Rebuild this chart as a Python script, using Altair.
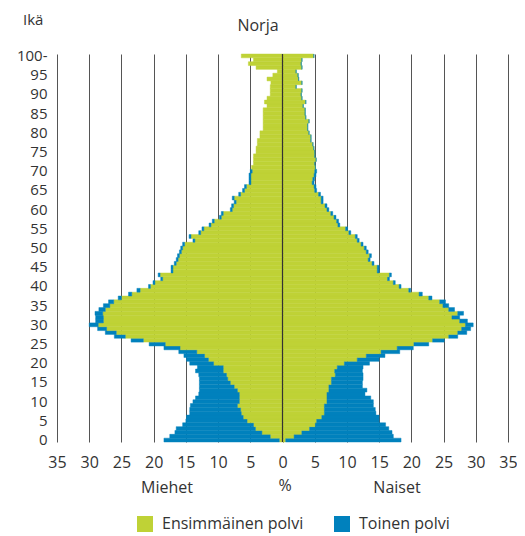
import altair as alt
import pandas as pd

ages = list(range(101))

male_first = [0.5, 1.9, 3.2, 4.2, 4.5, 5.5, 6.1, 6.4, 6.5, 7.0,
              6.7, 6.7, 6.7, 7.0, 7.5, 8.1, 8.5, 8.7, 9.2, 9.2,
              10.7, 11.5, 12.1, 13.3, 15.9, 18.2, 21.6, 24.4, 25.8, 27.3,
              28.6, 27.8, 27.8, 27.9, 27.5, 26.8, 26.2, 25.0, 23.4, 22.1,
              20.5, 19.8, 18.6, 19.0, 17.0, 17.0, 16.5, 16.2, 16.0, 15.7,
              15.5, 15.2, 13.6, 14.2, 12.7, 12.2, 11.1, 10.6, 9.5, 9.2,
              7.8, 7.6, 7.2, 7.5, 6.5, 5.9, 5.6, 4.9, 4.9, 4.9,
              4.7, 4.8, 4.5, 4.5, 4.5, 4.1, 4.1, 3.9, 3.9, 3.5,
              3.5, 3.0, 3.0, 3.0, 3.0, 3.0, 3.0, 2.4, 2.8, 2.4,
              1.9, 1.9, 1.9, 1.8, 2.4, 1.5, 0.8, 4.1, 5.3, 4.5,
              6.4]

male_second = [17.9, 15.6, 13.5, 12.3, 11.0, 9.5, 8.8, 8.0, 7.9, 7.3,
               7.2, 6.8, 6.3, 5.9, 5.4, 4.8, 4.4, 4.3, 4.3, 4.0,
               3.7, 3.4, 3.2, 2.8, 2.5, 2.5, 1.9, 1.7, 1.7, 1.4,
               1.4, 1.2, 1.2, 1.2, 1.0, 1.0, 0.8, 0.5, 0.5, 0.5,
               0.3, 0.3, 0.3, 0.3, 0.3, 0.3, 0.3, 0.3, 0.3, 0.3,
               0.3, 0.3, 0.3, 0.3, 0.3, 0.3, 0.3, 0.3, 0.3, 0.3,
               0.3, 0.3, 0.3, 0.3, 0.3, 0.3, 0.3, 0.3, 0.3, 0.3,
               0.3, 0, 0, 0, 0, 0, 0, 0, 0, 0,
               0, 0, 0, 0, 0, 0, 0, 0, 0, 0,
               0, 0, 0, 0, 0, 0, 0, 0, 0, 0,
               0]

female_first = [0.5, 1.8, 3.0, 4.2, 5.1, 5.3, 6.1, 6.5, 6.5, 6.5,
                6.9, 6.9, 6.9, 7.2, 7.2, 7.6, 7.6, 8.2, 8.1, 8.5,
                9.6, 11.6, 13.0, 15.3, 17.8, 20.4, 23.3, 25.8, 27.2, 27.8,
                28.4, 27.5, 26.3, 27.2, 25.8, 24.9, 24.4, 22.7, 21.2, 19.6,
                18.1, 17.2, 16.3, 16.6, 14.7, 14.7, 13.9, 13.3, 13.5, 13.0,
                12.7, 12.2, 11.6, 11.3, 10.3, 9.8, 8.6, 8.4, 8.0, 7.5,
                6.9, 6.6, 6.0, 6.0, 5.6, 5.0, 4.9, 4.6, 4.7, 4.9,
                5.0, 5.1, 5.0, 5.2, 5.0, 5.0, 4.85, 4.7, 4.4, 4.4,
                4.1, 3.9, 3.9, 4.1, 3.6, 3.5, 3.5, 3.2, 3.6, 3.0,
                2.9, 3.0, 2.1, 3.0, 2.5, 2.4, 2.1, 3.0, 2.9, 3.0,
                4.85]

female_second = [17.9, 15.4, 14.0, 12.3, 10.9, 9.7, 8.9, 8.0, 7.9, 7.6,
                 7.2, 6.8, 5.9, 5.9, 5.2, 4.8, 4.9, 4.3, 4.3, 4.0,
                 3.9, 3.4, 2.9, 2.9, 2.5, 2.3, 1.8, 1.4, 1.4, 1.4,
                 1.2, 1.2, 1.2, 0.9, 0.9, 0.9, 0.9, 0.5, 0.5, 0.3,
                 0.3, 0.3, 0.3, 0.3, 0.3, 0.3, 0.3, 0.3, 0.3, 0.3,
                 0.3, 0.3, 0.3, 0.3, 0.3, 0.3, 0.3, 0.3, 0.3, 0.3,
                 0.3, 0.3, 0.3, 0.3, 0.3, 0.3, 0.3, 0.3, 0.3, 0.3,
                 0.3, 0, 0, 0, 0, 0, 0, 0, 0, 0,
                 0, 0, 0, 0, 0, 0, 0, 0, 0, 0,
                 0, 0, 0, 0, 0, 0, 0, 0, 0, 0,
                 0]

series = ["Ensimmäinen polvi", "Toinen polvi"]
colors = ["#bfd236", "#0081bd"]
x_ticks = [-35, -30, -25, -20, -15, -10, -5, 0, 5, 10, 15, 20, 25, 30, 35]
y_ticks = list(range(0, 101, 5))

rows = []
for i, a in enumerate(ages):
    rows.append({"age": a, "gen": series[0], "g": 0, "value": -male_first[i]})
    rows.append({"age": a, "gen": series[1], "g": 1, "value": -male_second[i]})
    rows.append({"age": a, "gen": series[0], "g": 0, "value": female_first[i]})
    rows.append({"age": a, "gen": series[1], "g": 1, "value": female_second[i]})
df = pd.DataFrame(rows)

FONT = "Open Sans"
TXT = "#333333"

xscale = alt.Scale(domain=[-35, 35], nice=False, zero=False)
xaxis = alt.Axis(values=x_ticks, labelExpr="abs(datum.value)", tickCount=30,
                 labelOverlap=False, labelFlush=False,
                 grid=True, gridColor="#555555", gridWidth=1,
                 domain=False, ticks=False, labelPadding=12,
                 labelFontSize=16, labelColor=TXT, labelFont=FONT,
                 title=None)
cscale = alt.Scale(domain=series, range=colors)

bars = alt.Chart(df).mark_bar(strokeWidth=0.45).encode(
    x=alt.X("value:Q", stack="zero", scale=xscale, axis=xaxis),
    y=alt.Y("age:O", sort="descending",
            scale=alt.Scale(paddingInner=0, paddingOuter=0),
            axis=alt.Axis(values=y_ticks,
                          labelExpr="datum.value == 100 ? '100-' : datum.label",
                          labelOverlap=False,
                          domain=False, ticks=False, grid=False, labelPadding=10,
                          labelFontSize=15, labelColor=TXT, labelFont=FONT,
                          title=None)),
    color=alt.Color("gen:N", scale=cscale,
                    legend=alt.Legend(title=None, orient="none", legendX=80, legendY=462,
                                      direction="horizontal", symbolType="square",
                                      symbolSize=256, symbolStrokeWidth=0,
                                      labelFontSize=16, labelFont=FONT, labelColor=TXT,
                                      columnPadding=30, labelOffset=9, padding=0)),
    stroke=alt.Stroke("gen:N", scale=cscale, legend=None),
    order=alt.Order("g:Q"),
)

zero = alt.Chart(pd.DataFrame({"value": [0]})).mark_rule(color="#333333", strokeWidth=1.2).encode(
    x=alt.X("value:Q", scale=xscale, axis=xaxis)
)

def label(text, x, y, size=16, align="center"):
    return alt.Chart(pd.DataFrame({"t": [text]})).mark_text(
        font=FONT, fontSize=size, color=TXT, align=align, baseline="middle"
    ).encode(text="t:N", x=alt.value(x), y=alt.value(y))

texts = [
    label("Ikä", -34, -34, 15, "left"),
    label("Norja", 201, -28, 16),
    label("Miehet", 110, 434, 16),
    label("%", 228, 432, 16),
    label("Naiset", 340, 434, 16),
]

chart = alt.layer(bars, zero, *texts).properties(
    width=451, height=388,
    padding={"left": 49, "top": 46, "right": 9, "bottom": 96},
    autosize=alt.AutoSizeParams(type="none"),
).configure_view(stroke=None)

chart.save("out.html", embed_options={"renderer": "svg", "actions": False})
